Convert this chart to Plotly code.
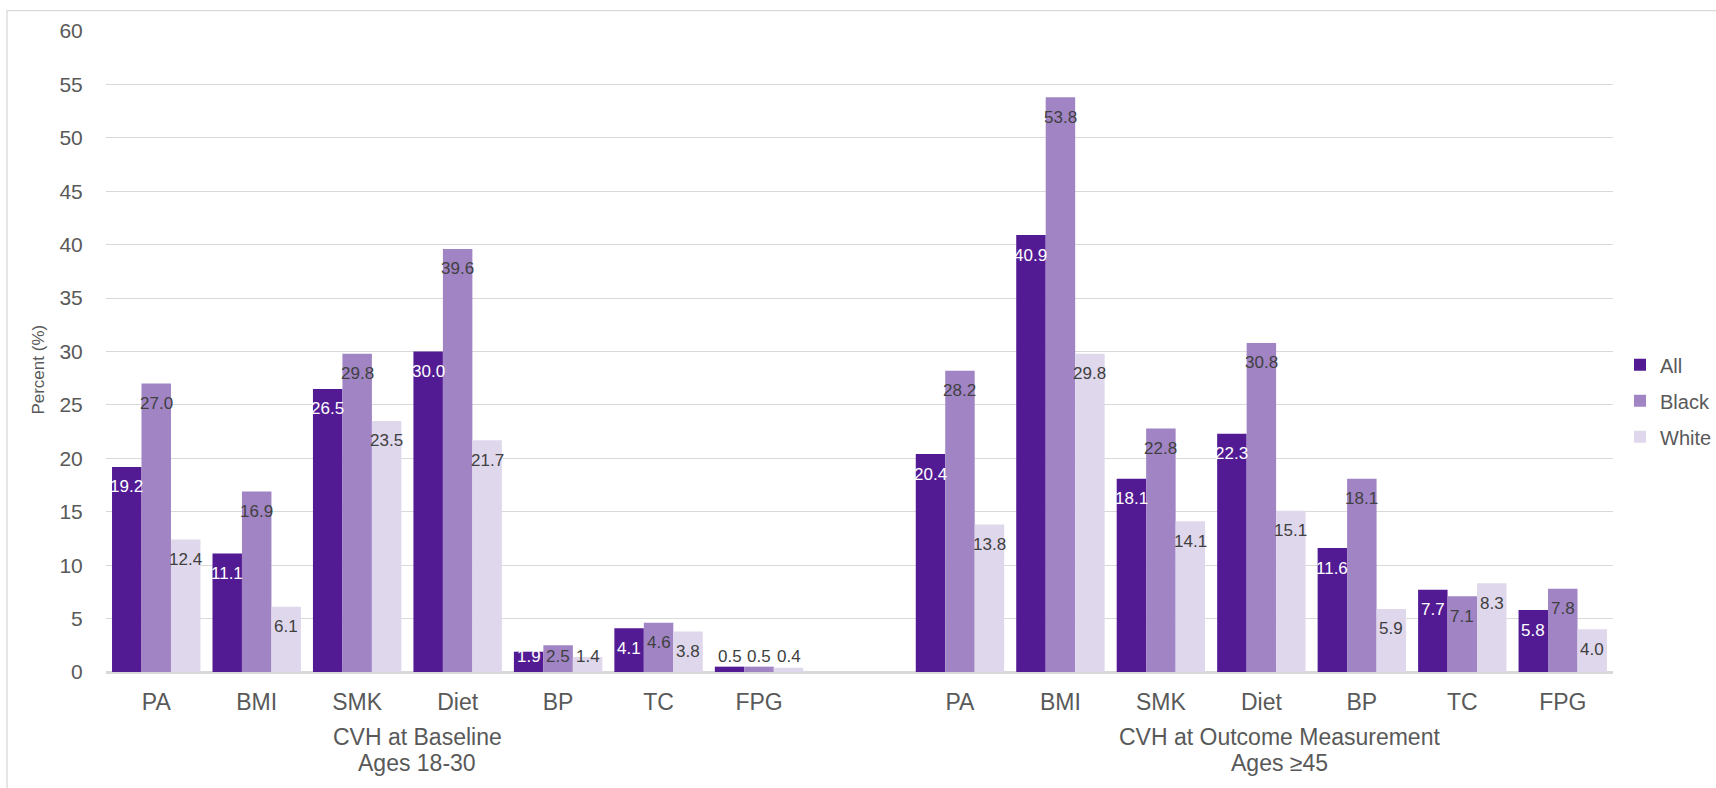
import plotly.graph_objects as go

# Cardiovascular-health metrics, two measurement periods
metrics = ["PA", "BMI", "SMK", "Diet", "BP", "TC", "FPG"]
period_titles = ["CVH at Baseline", "CVH at Outcome Measurement"]
period_ages = ["Ages 18-30", "Ages ≥45"]
series_names = ["All", "Black", "White"]

all_baseline = [19.2, 11.1, 26.5, 30.0, 1.9, 4.1, 0.5]
black_baseline = [27.0, 16.9, 29.8, 39.6, 2.5, 4.6, 0.5]
white_baseline = [12.4, 6.1, 23.5, 21.7, 1.4, 3.8, 0.4]

all_outcome = [20.4, 40.9, 18.1, 22.3, 11.6, 7.7, 5.8]
black_outcome = [28.2, 53.8, 22.8, 30.8, 18.1, 7.1, 7.8]
white_outcome = [13.8, 29.8, 14.1, 15.1, 5.9, 8.3, 4.0]

y_ticks = list(range(0, 61, 5))

# ---- styling ----
FONT = "Liberation Sans, Arial, sans-serif"
GREY_TEXT = "#595959"
DARK_LABEL = "#404040"
GRID = "#d9d9d9"
colors = ["#531b93", "#a084c4", "#dfd7ec"]
inside_label_colors = ["#ffffff", DARK_LABEL, DARK_LABEL]
BARGAP = 0.12

W, H = 1716, 788
M_L, M_R, M_T, M_B = 106, 103, 31, 116
plot_w = W - M_L - M_R
plot_h = H - M_T - M_B
px_per_unit = plot_h / 60.0

# category slots: baseline metrics, an empty spacer slot, outcome metrics
base_keys = [f"base_{m}" for m in metrics]
out_keys = [f"out_{m}" for m in metrics]
category_order = base_keys + ["spacer"] + out_keys

series_values = [
    all_baseline + all_outcome,
    black_baseline + black_outcome,
    white_baseline + white_outcome,
]
x_keys = base_keys + out_keys

fig = go.Figure()
for i, name in enumerate(series_names):
    fig.add_trace(go.Bar(
        x=x_keys,
        y=series_values[i],
        name=name,
        marker=dict(color=colors[i], line=dict(width=0)),
        legendgroup=name,
        hoverinfo="y+name",
    ))

# value labels: centred on each bar, ~20 px below its top, kept above the axis
bar_w = (1 - BARGAP) / 3
label_shift = 20
min_label_value = (label_shift + 16) / px_per_unit
annotations = []
for i in range(3):
    for key, v in zip(x_keys, series_values[i]):
        idx = category_order.index(key)
        y_anchor = max(v, min_label_value)
        centre_px = y_anchor * px_per_unit - label_shift  # above the axis
        inside = v * px_per_unit >= centre_px
        annotations.append(dict(
            x=idx + (i - 1) * bar_w, xref="x",
            y=y_anchor, yref="y",
            yshift=-label_shift,
            text=f"{v:.1f}", showarrow=False,
            xanchor="center", yanchor="middle",
            font=dict(family=FONT, size=17,
                      color=inside_label_colors[i] if inside else DARK_LABEL),
        ))

# period captions under each group of categories
group_x = [2.6, 11.18]
for gx, title, ages in zip(group_x, period_titles, period_ages):
    for line, yp in ((title, 737), (ages, 763)):
        annotations.append(dict(
            x=gx, xref="x", y=(H - M_B - yp) / plot_h, yref="paper",
            text=line, showarrow=False, xanchor="center", yanchor="middle",
            font=dict(family=FONT, size=23, color=GREY_TEXT),
        ))

# y-axis title
annotations.append(dict(
    x=(38.5 - M_L) / plot_w, xref="paper", y=0.471, yref="paper",
    text="Percent (%)", textangle=-90, showarrow=False,
    xanchor="center", yanchor="middle",
    font=dict(family=FONT, size=17, color=GREY_TEXT),
))

fig.update_layout(
    width=W, height=H, autosize=False,
    margin=dict(l=M_L, r=M_R, t=M_T, b=M_B, pad=0, autoexpand=False),
    paper_bgcolor="white", plot_bgcolor="white",
    barmode="group", bargap=BARGAP, bargroupgap=0,
    font=dict(family=FONT, color=GREY_TEXT),
    showlegend=True,
    legend=dict(
        x=(1620 - M_L) / plot_w, xanchor="left", y=0.423, yanchor="middle",
        font=dict(family=FONT, size=20, color=GREY_TEXT),
        traceorder="grouped", tracegroupgap=7,
        bgcolor="rgba(0,0,0,0)", itemwidth=30,
    ),
    annotations=annotations,
    shapes=[dict(
        type="rect", xref="paper", yref="paper",
        x0=(7 - M_L) / plot_w, x1=1.2, y0=-0.3, y1=(H - M_B - 10.7) / plot_h,
        line=dict(color=GRID, width=1.3), fillcolor="rgba(0,0,0,0)",
        layer="below",
    )],
)

fig.update_xaxes(
    type="category",
    categoryorder="array", categoryarray=category_order,
    range=[-0.5, len(category_order) - 0.5],
    tickmode="array", tickvals=x_keys, ticktext=metrics + metrics,
    ticks="outside", ticklen=9, tickcolor="rgba(0,0,0,0)",
    tickfont=dict(family=FONT, size=23, color=GREY_TEXT),
    showgrid=False, showline=False, zeroline=False,
    fixedrange=True,
)

fig.update_yaxes(
    range=[0, 60], tickmode="array", tickvals=y_ticks,
    ticks="outside", ticklen=18, tickcolor="rgba(0,0,0,0)",
    tickfont=dict(family=FONT, size=21, color=GREY_TEXT),
    showgrid=True, gridcolor=GRID, gridwidth=1.3,
    zeroline=True, zerolinecolor=GRID, zerolinewidth=2.5,
    showline=False, fixedrange=True,
)

fig.write_html("out.html")
